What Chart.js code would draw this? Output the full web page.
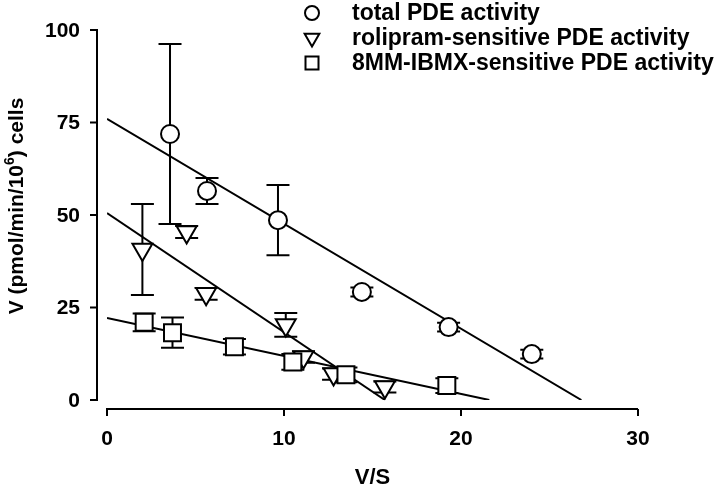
<!DOCTYPE html>
<html>
<head>
<meta charset="utf-8">
<script src="https://cdn.jsdelivr.net/npm/chart.js@4/dist/chart.umd.min.js"></script>
<style>
  html, body { margin: 0; padding: 0; background: #fff; }
  #wrap { width: 720px; height: 487px; }
</style>
</head>
<body>
<div id="wrap"><canvas id="chart" width="720" height="487"></canvas></div>
<script>
// values
const seriesLabels = ['total PDE activity', 'rolipram-sensitive PDE activity', '8MM-IBMX-sensitive PDE activity'];

const totalX = [3.56, 5.65, 9.66, 14.4, 19.3, 24.0];
const totalY = [71.9, 56.5, 48.6, 29.2, 19.7, 12.4];
const totalErr = [24.3, 3.5, 9.5, 1.2, 1.2, 1.2];

const rolX = [2.0, 4.5, 5.6, 10.1, 11.1, 12.8, 15.7];
const rolY = [40.7, 45.4, 28.7, 20.3, 11.6, 7.0, 3.5];
const rolErr = [12.3, 1.6, 1.6, 3.2, 1.5, 1.5, 1.5];

const ibmxX = [2.1, 3.7, 7.2, 10.5, 13.5, 19.2];
const ibmxY = [21.0, 18.2, 14.4, 10.3, 6.8, 3.9];
const ibmxErr = [2.4, 4.1, 2.1, 2.1, 2.0, 2.0];

// regression lines (end points)
const totalFitX = [0, 26.8], totalFitY = [76, 0];
const rolFitX = [0, 15.7], rolFitY = [50.5, 0];
const ibmxFitX = [0, 21.6], ibmxFitY = [22.2, 0];

const xTicks = [0, 10, 20, 30];
const yTicks = [0, 25, 50, 75, 100];
const xTitle = 'V/S';

const FONT = 'Arial, "Liberation Sans", Helvetica, sans-serif';

function pts(xs, ys) { return xs.map((x, i) => ({ x: x, y: ys[i] })); }

const errSeries = [
  { x: totalX, y: totalY, e: totalErr },
  { x: rolX, y: rolY, e: rolErr },
  { x: ibmxX, y: ibmxY, e: ibmxErr }
];

const errorBars = {
  id: 'errorBars',
  beforeDatasetsDraw(chart) {
    const ctx = chart.ctx, xs = chart.scales.x, ys = chart.scales.y;
    ctx.save();
    ctx.strokeStyle = '#000';
    ctx.lineWidth = 2;
    errSeries.forEach(s => {
      s.x.forEach((v, i) => {
        const px = xs.getPixelForValue(v);
        const top = ys.getPixelForValue(s.y[i] + s.e[i]);
        const bot = ys.getPixelForValue(s.y[i] - s.e[i]);
        ctx.beginPath();
        ctx.moveTo(px, top); ctx.lineTo(px, bot);
        ctx.moveTo(px - 11.5, top); ctx.lineTo(px + 11.5, top);
        ctx.moveTo(px - 11.5, bot); ctx.lineTo(px + 11.5, bot);
        ctx.stroke();
      });
    });
    ctx.restore();
  }
};

function marker(ctx, style, x, y, r) {
  ctx.beginPath();
  if (style === 'circle') {
    ctx.arc(x, y, r, 0, Math.PI * 2);
  } else if (style === 'triangle') {
    ctx.moveTo(x - r * 0.866, y - r * 0.5);
    ctx.lineTo(x + r * 0.866, y - r * 0.5);
    ctx.lineTo(x, y + r);
    ctx.closePath();
  } else {
    ctx.rect(x - r, y - r, 2 * r, 2 * r);
  }
  ctx.fill();
  ctx.stroke();
}

// offset axes (prism style), legend and titles
const axesAndLegend = {
  id: 'axesAndLegend',
  afterDraw(chart) {
    const ctx = chart.ctx, xs = chart.scales.x, ys = chart.scales.y;
    ctx.save();
    ctx.strokeStyle = '#000';
    ctx.fillStyle = '#000';
    ctx.lineWidth = 2;

    // y axis
    const ax = xs.getPixelForValue(0) - 10;
    ctx.beginPath();
    ctx.moveTo(ax, ys.getPixelForValue(yTicks[yTicks.length - 1]));
    ctx.lineTo(ax, ys.getPixelForValue(yTicks[0]));
    yTicks.forEach(t => {
      const py = ys.getPixelForValue(t);
      ctx.moveTo(ax - 7, py); ctx.lineTo(ax + 1, py);
    });
    ctx.stroke();
    ctx.font = 'bold 21px ' + FONT;
    ctx.textAlign = 'right';
    ctx.textBaseline = 'middle';
    yTicks.forEach(t => ctx.fillText(String(t), ax - 17, ys.getPixelForValue(t) + 1));

    // x axis
    const ay = ys.getPixelForValue(0) + 9;
    ctx.beginPath();
    ctx.moveTo(xs.getPixelForValue(xTicks[0]) - 1, ay);
    ctx.lineTo(xs.getPixelForValue(xTicks[xTicks.length - 1]), ay);
    xTicks.forEach(t => {
      const px = xs.getPixelForValue(t);
      ctx.moveTo(px, ay); ctx.lineTo(px, ay + 7);
    });
    ctx.stroke();
    ctx.textAlign = 'center';
    xTicks.forEach(t => ctx.fillText(String(t), xs.getPixelForValue(t), ay + 30));

    // axis titles
    ctx.font = 'bold 22px ' + FONT;
    ctx.fillText(xTitle, (xs.left + xs.right) / 2, 478);
    ctx.save();
    ctx.translate(17, 206);
    ctx.rotate(-Math.PI / 2);
    const p1 = 'V (pmol/min/10', sup = '6', p2 = ') cells';
    ctx.font = 'bold 21px ' + FONT;
    const w1 = ctx.measureText(p1).width, w3 = ctx.measureText(p2).width;
    ctx.font = 'bold 14px ' + FONT;
    const w2 = ctx.measureText(sup).width;
    let sx = -(w1 + w2 + w3) / 2;
    ctx.textAlign = 'left';
    ctx.font = 'bold 21px ' + FONT;
    ctx.fillText(p1, sx, 0);
    ctx.font = 'bold 14px ' + FONT;
    ctx.fillText(sup, sx + w1, -7);
    ctx.font = 'bold 21px ' + FONT;
    ctx.fillText(p2, sx + w1 + w2, 0);
    ctx.restore();

    // legend
    const styles = ['circle', 'triangle', 'rect'];
    const sizes = [7, 8.5, 6.5];
    ctx.fillStyle = '#fff';
    ctx.lineWidth = 2;
    styles.forEach((s, i) => marker(ctx, s, 312, 13 + i * 25, sizes[i]));
    ctx.fillStyle = '#000';
    ctx.font = 'bold 23px ' + FONT;
    ctx.textAlign = 'left';
    seriesLabels.forEach((l, i) => ctx.fillText(l, 352, 14 + i * 25));
    ctx.restore();
  }
};

const markerBase = {
  showLine: false,
  borderColor: '#000',
  backgroundColor: '#fff',
  pointBorderWidth: 2,
  clip: false
};

const lineBase = {
  type: 'line',
  showLine: true,
  borderColor: '#000',
  borderWidth: 2,
  pointRadius: 0,
  fill: false,
  order: 10
};

new Chart(document.getElementById('chart'), {
  type: 'scatter',
  data: {
    datasets: [
      Object.assign({}, markerBase, { label: seriesLabels[2], data: pts(ibmxX, ibmxY), pointStyle: 'rect', pointRadius: 12, order: 1 }),
      Object.assign({}, markerBase, { label: seriesLabels[1], data: pts(rolX, rolY), pointStyle: 'triangle', pointRotation: 180, pointRadius: 11.5, order: 2 }),
      Object.assign({}, markerBase, { label: seriesLabels[0], data: pts(totalX, totalY), pointStyle: 'circle', pointRadius: 9, order: 3 }),
      Object.assign({}, lineBase, { label: 'fit total', data: pts(totalFitX, totalFitY) }),
      Object.assign({}, lineBase, { label: 'fit rolipram', data: pts(rolFitX, rolFitY) }),
      Object.assign({}, lineBase, { label: 'fit IBMX', data: pts(ibmxFitX, ibmxFitY) })
    ]
  },
  options: {
    responsive: false,
    animation: false,
    events: [],
    layout: { padding: { left: 107, right: 82, top: 30, bottom: 87 } },
    scales: {
      x: { type: 'linear', min: 0, max: 30, display: false },
      y: { type: 'linear', min: 0, max: 100, display: false }
    },
    plugins: {
      legend: { display: false },
      tooltip: { enabled: false }
    }
  },
  plugins: [errorBars, axesAndLegend]
});
</script>
</body>
</html>
